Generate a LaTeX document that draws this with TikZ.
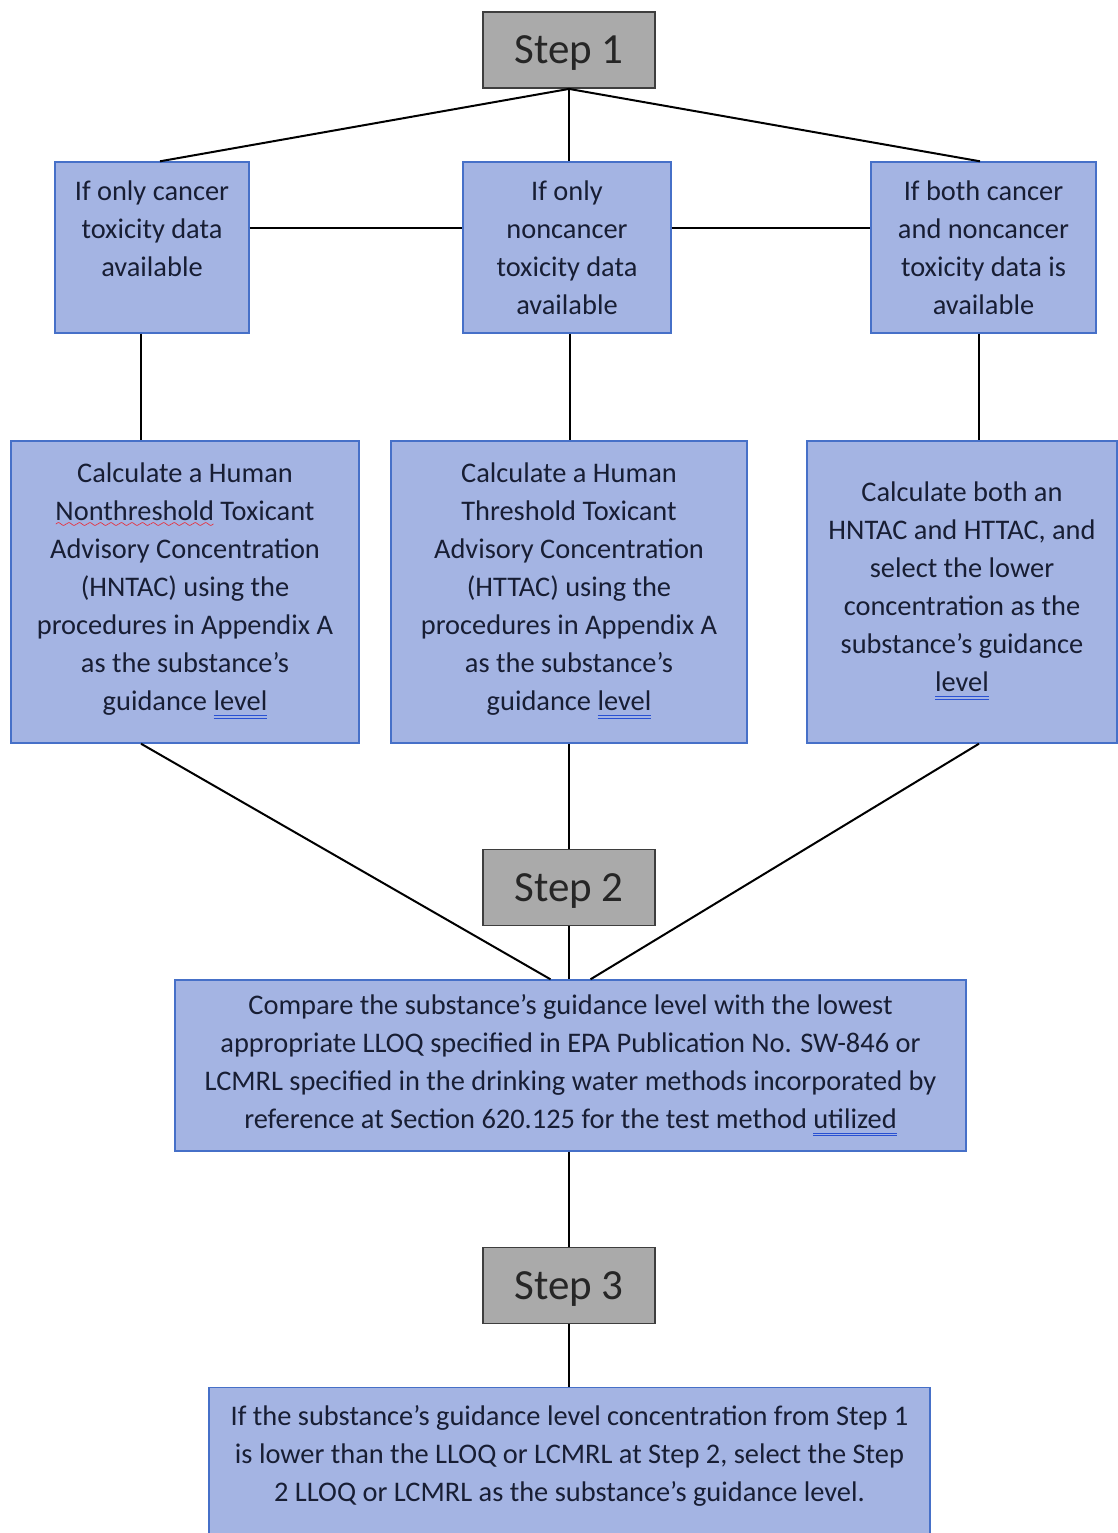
\documentclass[tikz,border=0pt]{standalone}
\usepackage{fontspec}
\setmainfont{Carlito}
\usepackage{xcolor}

\definecolor{boxblue}{RGB}{164,180,227}
\definecolor{boxedge}{RGB}{70,112,200}
\definecolor{stepgray}{RGB}{170,170,170}
\definecolor{stepedge}{RGB}{62,62,62}
\definecolor{inkblue}{RGB}{24,30,52}
\definecolor{gramblue}{RGB}{40,80,210}

\font\wavefont=lasy6
\newcommand\spellwave[1]{\setbox0\hbox{#1}\rlap{\textcolor{red}{\lower3.5pt\hbox to \wd0{\xleaders\hbox{\wavefont\char58}\hfill}}}\box0\relax}
\newcommand\grammarline[1]{\setbox0\hbox{#1}\rlap{\textcolor{gramblue}{\rule[-2.4pt]{\wd0}{0.45pt}}}\rlap{\textcolor{gramblue}{\rule[-3.8pt]{\wd0}{0.45pt}}}\box0\relax}

\begin{document}
\begin{tikzpicture}[x=0.5pt, y=-0.5pt,
	stepbox/.style = {draw=stepedge, fill=stepgray, line width=0.9pt,
		minimum width=86pt, minimum height=38pt, text depth=0pt,
		font=\fontsize{21.5}{24}\selectfont, text=black!85},
	bluetext/.style = {align=center, inner sep=0pt,
		font=\fontsize{14.2}{19}\selectfont, text=inkblue},
	bluebox/.style = {bluetext, draw=boxedge, fill=boxblue, line width=0.7pt},
	link/.style = {line width=1pt, black}]
	
	\useasboundingbox (0,0) rectangle (1118,1533);
	
	\node[stepbox] (s1) at (569,50) {Step 1};
	
	\node[bluebox, minimum width=97pt, minimum height=85.5pt] (cancer) at (152,247.5)
		{If only cancer\\toxicity data\\available\\~};
	\node[bluebox, minimum width=104pt, minimum height=85.5pt] (noncancer) at (567,247.5)
		{If only\\noncancer\\toxicity data\\available};
	\node[bluebox, minimum width=112.5pt, minimum height=85.5pt] (both) at (983.5,247.5)
		{If both cancer\\and noncancer\\toxicity data is\\available};
	
	\node[bluebox, minimum width=174pt, minimum height=151pt] (hntac) at (185,592)
		{Calculate a Human\\\spellwave{Nonthreshold} Toxicant\\Advisory Concentration\\(HNTAC) using the\\procedures in Appendix A\\as the substance’s\\guidance \grammarline{level}\\[-14pt]~};
	\node[bluebox, minimum width=178pt, minimum height=151pt] (httac) at (569,592)
		{Calculate a Human\\Threshold Toxicant\\Advisory Concentration\\(HTTAC) using the\\procedures in Appendix A\\as the substance’s\\guidance \grammarline{level}\\[-14pt]~};
	\node[bluebox, minimum width=155pt, minimum height=151pt] (lower) at (962,592)
		{Calculate both an\\HNTAC and HTTAC, and\\select the lower\\concentration as the\\substance’s guidance\\\grammarline{level}\\[-14pt]~};
	
	\node[stepbox] (s2) at (569,887.5) {Step 2};
	
	\node[bluebox, minimum width=395.5pt, minimum height=85.5pt] (compare) at (570.5,1065.5)
		{Compare the substance’s guidance level with the lowest\\appropriate LLOQ specified in EPA Publication No. SW-846 or\\LCMRL specified in the drinking water methods incorporated by\\reference at Section 620.125 for the test method \grammarline{utilized}};
	
	\node[stepbox] (s3) at (569,1285.5) {Step 3};
	
	\node[bluebox, minimum width=360.5pt, minimum height=80pt, anchor=north,
		label={[bluetext, anchor=north, yshift=-9pt]north:If the substance’s guidance level concentration from Step 1\\is lower than the LLOQ or LCMRL at Step 2, select the Step\\2 LLOQ or LCMRL as the substance’s guidance level.}]
		(select) at (569.5,1387) {};
	
	\draw[link] (s1.south) -- ([xshift=4pt]cancer.north);
	\draw[link] (s1.south) -- (s1.south |- noncancer.north);
	\draw[link] (s1.south) -- ([xshift=-1.75pt]both.north);
	
	\draw[link] ([yshift=10pt]cancer.east) -- ([yshift=10pt]cancer.east -| noncancer.west);
	\draw[link] ([yshift=10pt]noncancer.east) -- ([yshift=10pt]noncancer.east -| both.west);
	
	\draw[link] ([xshift=-5.5pt]cancer.south) -- ([xshift=-5.5pt]cancer.south |- hntac.north);
	\draw[link] ([xshift=1.5pt]noncancer.south) -- ([xshift=1.5pt]noncancer.south |- httac.north);
	\draw[link] ([xshift=-2.25pt]both.south) -- ([xshift=-2.25pt]both.south |- lower.north);
	
	\draw[link] ([xshift=-22pt]hntac.south) -- ([xshift=-10pt]compare.north);
	\draw[link] (httac.south) -- (s2.north);
	\draw[link] ([xshift=8.5pt]lower.south) -- ([xshift=10pt]compare.north);
	
	\draw[link] (s2.south) -- (s2.south |- compare.north);
	\draw[link] (s2.south |- compare.south) -- (s3.north);
	\draw[link] (s3.south) -- (s3.south |- select.north);
	
\end{tikzpicture}
\end{document}
